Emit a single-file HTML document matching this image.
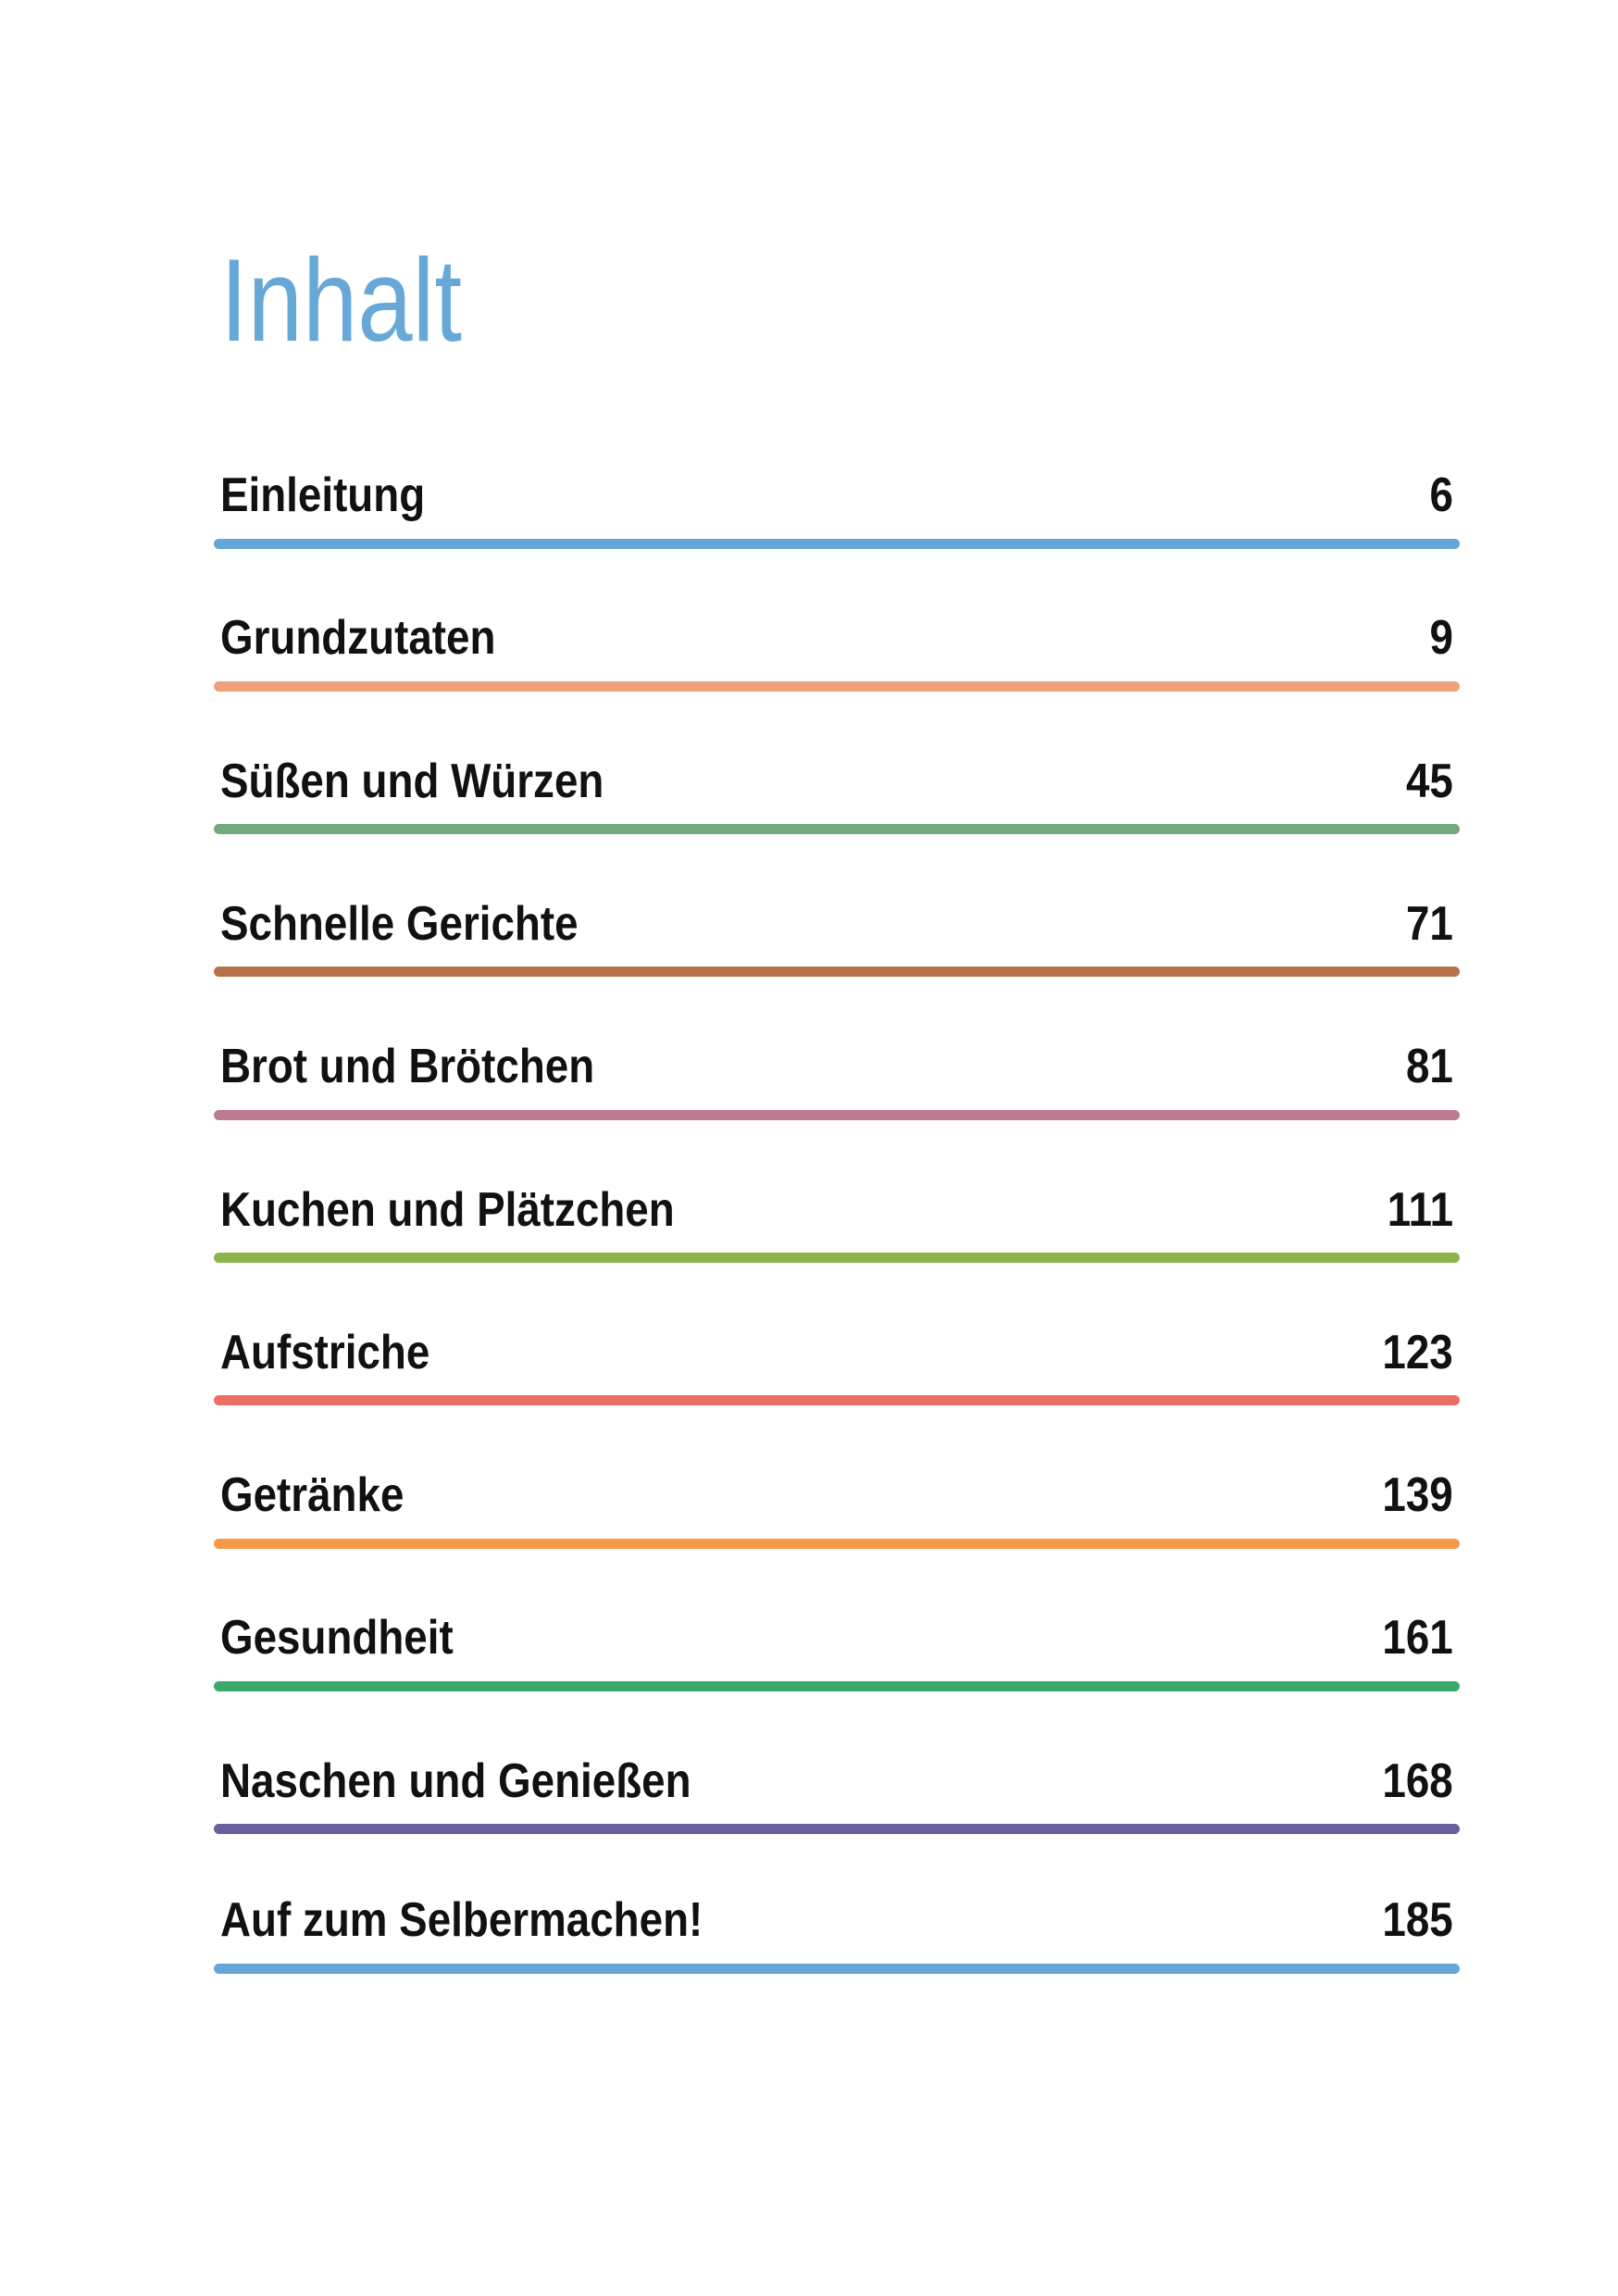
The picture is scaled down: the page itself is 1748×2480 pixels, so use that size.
<!DOCTYPE html>
<html><head><meta charset="utf-8"><style>
html,body{margin:0;padding:0;background:#fff;}
body{width:1748px;height:2480px;position:relative;overflow:hidden;font-family:"Liberation Sans",sans-serif;}
.t{position:absolute;left:238px;top:261px;font-size:127px;color:#67a8d8;line-height:1;transform:scaleX(0.84);transform-origin:left top;}
.row{position:absolute;left:238px;width:1332px;height:60px;}
.row span{position:absolute;bottom:0;font-weight:bold;font-size:52px;line-height:1;color:#111;transform:scaleX(0.88);}
.row .l{left:0;transform-origin:left bottom;}
.row .r{right:0;transform-origin:right bottom;}
.ln{position:absolute;left:231px;width:1346px;height:11px;border-radius:6px;}
</style></head><body>
<div class="t">Inhalt</div>
<div id="c"></div>
<script>
var d=[["Einleitung","6","#66a7d8"],["Grundzutaten","9","#f0a07a"],["Süßen und Würzen","45","#72aa7c"],["Schnelle Gerichte","71","#b5714a"],["Brot und Brötchen","81","#bd7a90"],["Kuchen und Plätzchen","111","#8ab54c"],["Aufstriche","123","#ee6e64"],["Getränke","139","#f49a4a"],["Gesundheit","161","#3aaa6c"],["Naschen und Genießen","168","#6a5f9e"],["Auf zum Selbermachen!","185","#66a7d8"]];
var h="";
for(var i=0;i<d.length;i++){var y=(i<10)?587+154.3*i:2126;var b=y-37;
h+='<div class="row" style="top:'+(b-60+11)+'px"><span class="l">'+d[i][0]+'</span><span class="r">'+d[i][1]+'</span></div>';
h+='<div class="ln" style="top:'+(y-5.5)+'px;background:'+d[i][2]+'"></div>';}
document.getElementById("c").innerHTML=h;
</script>
</body></html>
